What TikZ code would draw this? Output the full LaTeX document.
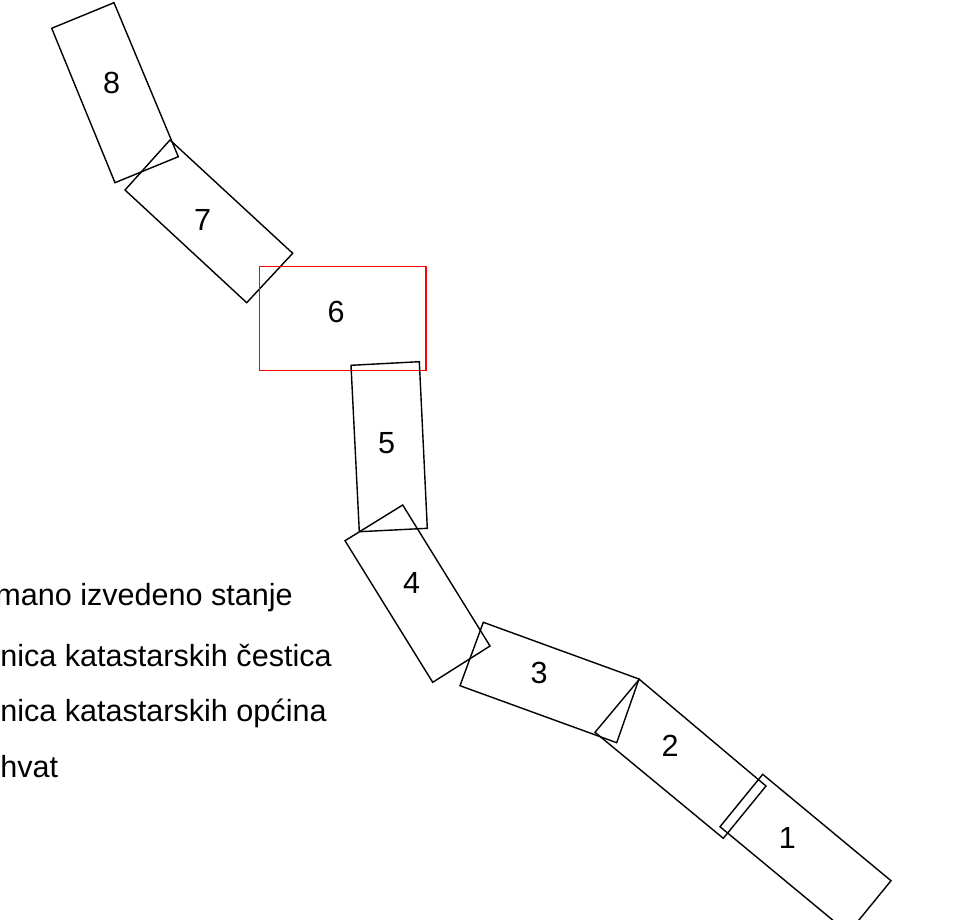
\documentclass[tikz,border=0pt]{standalone}
\usepackage{fontspec}
\setmainfont{Liberation Sans}
\usepackage{tikz}
\tikzset{
  parcel/.style={draw=black,line width=0.8pt,line join=miter},
  zonebox/.style={draw=red,line width=0.8pt},
  numlbl/.style={font=\fontsize{17.4}{20}\selectfont,inner sep=0pt},
  legtext/.style={font=\fontsize{17.4}{20}\selectfont,inner sep=0pt,anchor=base west}
}

\begin{document}
\begin{tikzpicture}[x=0.02cm,y=-0.02cm]
  \useasboundingbox (0,0) rectangle (969,919);
  \clip (0,0) rectangle (969,919);

  % parcels, top to bottom
  \draw[parcel] (51.7,28.3) -- (114,2.7) -- (178.3,156.7) -- (115,182.7) -- cycle;
  \draw[parcel] (170,140) -- (292.7,253.3) -- (246.7,302.7) -- (125,190) -- cycle;
  \draw[zonebox] (259.3,266.7) rectangle (426,370.7);
  \draw[parcel] (351,365.3) -- (419.3,361.7) -- (427.3,528.3) -- (359.3,531.7) -- cycle;
  \draw[parcel] (345,540.7) -- (402.7,505) -- (490,646) -- (432.7,682.3) -- cycle;
  \draw[parcel] (483.3,622.3) -- (639,679) -- (616.7,742.7) -- (460,685.7) -- cycle;
  \draw[parcel] (639.3,679.3) -- (766,786) -- (723.3,838.3) -- (595,732.3) -- cycle;
  \draw[parcel] (762.7,774.3) -- (891,880.7) -- (848.3,933) -- (720,826.7) -- cycle;

  % parcel numbers
  \node[numlbl] (n8) at (111.7,83) {8};
  \node[numlbl] (n7) at (202.7,220) {7};
  \node[numlbl] (n6) at (336,311.7) {6};
  \node[numlbl] (n5) at (386.7,442.7) {5};
  \node[numlbl] (n4) at (411.7,583.3) {4};
  \node[numlbl] (n3) at (539,673.3) {3};
  \node[numlbl] (n2) at (670,746) {2};
  \node[numlbl] (n1) at (787.3,838.3) {1};

  % legend
  \node[legtext] (leg1) at (-5,605) {mano izvedeno stanje};
  \node[legtext] (leg2) at (0,666.7) {nica katastarskih čestica};
  \node[legtext] (leg3) at (0,721.7) {nica katastarskih općina};
  \node[legtext] (leg4) at (0,777) {hvat};
\end{tikzpicture}
\end{document}
